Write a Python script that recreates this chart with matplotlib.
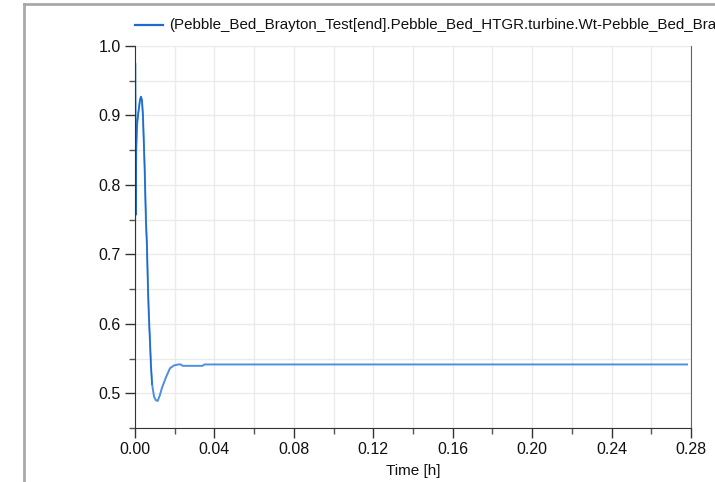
import matplotlib.pyplot as plt
import matplotlib.lines as mlines
from matplotlib.ticker import MultipleLocator
import numpy as np

plt.rcParams['font.family'] = ['Liberation Sans', 'DejaVu Sans']

# time [h] and value
time_h = [0.0, 0.0001, 0.0004, 0.0006, 0.0010, 0.0015, 0.0025, 0.0030, 0.0035,
          0.0040, 0.0048, 0.0055, 0.0060, 0.0065, 0.0070, 0.0076, 0.0080,
          0.0086, 0.0096, 0.0105, 0.0114, 0.0125, 0.0136, 0.0156, 0.0176,
          0.0196, 0.0217, 0.0230, 0.0240, 0.0340, 0.0350, 0.2780]
value = [0.495, 0.975, 0.757, 0.850, 0.886, 0.900, 0.922, 0.927, 0.922,
         0.900, 0.830, 0.750, 0.714, 0.655, 0.610, 0.571, 0.542,
         0.513, 0.495, 0.490, 0.489, 0.497, 0.508, 0.523, 0.536,
         0.540, 0.5415, 0.5415, 0.5395, 0.5395, 0.5415, 0.5415]

legend_label = ('(Pebble_Bed_Brayton_Test[end].Pebble_Bed_HTGR.turbine.Wt-'
                'Pebble_Bed_Brayton_Test[end].Pebble_Bed_HTGR.compressor.Wt)')

fig = plt.figure(figsize=(7.15, 4.82), dpi=100)
ax = fig.add_axes([135 / 715, 1 - 428 / 482, 556 / 715, 382 / 482])

ax.plot(time_h, value, color='#4a8fe0', lw=1.4)
ax.plot(time_h[:18], value[:18], color='#1f6acb', lw=1.0)

ax.set_xlim(0, 0.28)
ax.set_ylim(0.45, 1.0)
ax.xaxis.set_major_locator(MultipleLocator(0.04))
ax.xaxis.set_minor_locator(MultipleLocator(0.02))
ax.yaxis.set_major_locator(MultipleLocator(0.1))
ax.yaxis.set_minor_locator(MultipleLocator(0.05))
ax.set_xticklabels([f'{v:.2f}' for v in ax.get_xticks()])
ax.set_yticklabels([f'{v:.1f}' for v in ax.get_yticks()])

ax.grid(True, which='both', color='#ebebeb', lw=1.0)
ax.set_axisbelow(True)
ax.tick_params(which='major', length=7, width=1, color='#333333',
               labelsize=11.5, labelcolor='#111111', pad=3)
ax.tick_params(which='minor', length=4, width=1, color='#555555')

ax.spines['top'].set_visible(False)
ax.spines['right'].set_color('#666666')
ax.spines['left'].set_color('#333333')
ax.spines['bottom'].set_color('#333333')

ax.set_xlabel('Time [h]', fontsize=11, color='#111111', labelpad=5)

# legend above the plot, running past the right edge as in the reference
fig.add_artist(mlines.Line2D([135 / 715, 163 / 715], [1 - 25 / 482] * 2,
                             color='#1f6acb', lw=1.6))
fig.text(169 / 715, 1 - 25 / 482, legend_label, fontsize=10.9,
         color='#111111', va='center', ha='left')

# outer panel frame
fig.add_artist(mlines.Line2D([24 / 715, 24 / 715], [0, 1 - 4 / 482],
                             color='#a8a8a8', lw=2))
fig.add_artist(mlines.Line2D([24 / 715, 1], [1 - 4 / 482] * 2,
                             color='#a8a8a8', lw=2))

fig.savefig('out.png', dpi=100)
